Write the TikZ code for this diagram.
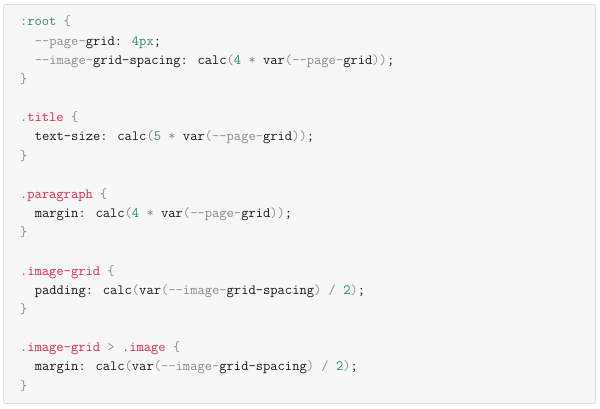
\documentclass[tikz,border=0pt]{standalone}
\usepackage{fontspec}
\definecolor{cred}{HTML}{DD2C4C}
\definecolor{cgrn}{HTML}{2F8F6A}
\definecolor{cgry}{HTML}{8C8C8C}
\definecolor{cdark}{HTML}{1A1A1A}
\definecolor{cbg}{HTML}{F7F7F7}
\definecolor{cborder}{HTML}{E2E2E2}
\newcommand\kred[1]{\textcolor{cred}{#1}}
\newcommand\kgrn[1]{\textcolor{cgrn}{#1}}
\newcommand\kgry[1]{\textcolor{cgry}{#1}}
\tikzset{
  codeline/.style={anchor=base west, inner sep=0pt, outer sep=0pt, font=\ttfamily\fontsize{14.15pt}{16pt}\selectfont, text=cdark},
  codebox/.style={draw=cborder, fill=cbg, line width=1pt, rounded corners=2pt}
}
\begin{document}
\begin{tikzpicture}[x=1pt,y=-1pt]
\useasboundingbox (0,0) rectangle (600,409);
\draw[codebox] (3.5,4.5) rectangle (595.5,403.5);
\def\xa{20}
\def\xb{34.8}
\def\lh{19.16}
\node[codeline] (l1) at (\xa,26) {\kgrn{:root} \kgry{\{}};
\node[codeline] (l2) at (\xb,26+\lh) {\kgry{-{}-page-}grid: \kgrn{4px};};
\node[codeline] (l3) at (\xb,26+2*\lh) {\kgry{-{}-image-}grid-spacing: calc\kgry{(}\kgrn{4} \kgry{*} var\kgry{(-{}-page-}grid\kgry{))};};
\node[codeline] (l4) at (\xa,26+3*\lh) {\kgry{\}}};
\node[codeline] (l6) at (\xa,26+5*\lh) {\kred{.title} \kgry{\{}};
\node[codeline] (l7) at (\xb,26+6*\lh) {text-size: calc\kgry{(}\kgrn{5} \kgry{*} var\kgry{(-{}-page-}grid\kgry{))};};
\node[codeline] (l8) at (\xa,26+7*\lh) {\kgry{\}}};
\node[codeline] (l10) at (\xa,26+9*\lh) {\kred{.paragraph} \kgry{\{}};
\node[codeline] (l11) at (\xb,26+10*\lh) {margin: calc\kgry{(}\kgrn{4} \kgry{*} var\kgry{(-{}-page-}grid\kgry{))};};
\node[codeline] (l12) at (\xa,26+11*\lh) {\kgry{\}}};
\node[codeline] (l14) at (\xa,26+13*\lh) {\kred{.image-grid} \kgry{\{}};
\node[codeline] (l15) at (\xb,26+14*\lh) {padding: calc\kgry{(}var\kgry{(-{}-image-}grid-spacing\kgry{)} \kgry{/} \kgrn{2}\kgry{)};};
\node[codeline] (l16) at (\xa,26+15*\lh) {\kgry{\}}};
\node[codeline] (l18) at (\xa,26+17*\lh) {\kred{.image-grid} \kgry{>} \kred{.image} \kgry{\{}};
\node[codeline] (l19) at (\xb,26+18*\lh) {margin: calc\kgry{(}var\kgry{(-{}-image-}grid-spacing\kgry{)} \kgry{/} \kgrn{2}\kgry{)};};
\node[codeline] (l20) at (\xa,26+19*\lh) {\kgry{\}}};
\end{tikzpicture}
\end{document}
